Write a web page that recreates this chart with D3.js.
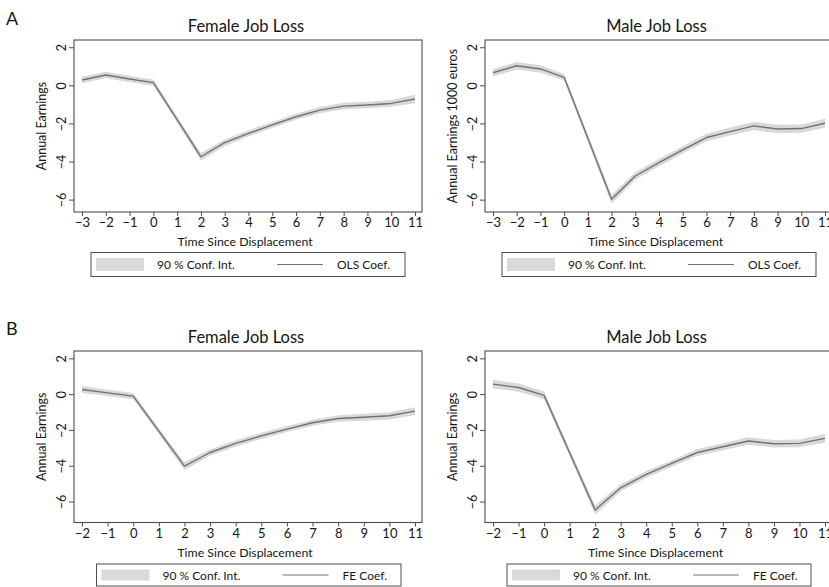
<!DOCTYPE html>
<html>
<head>
<meta charset="utf-8">
<script src="https://cdn.jsdelivr.net/npm/d3@7"></script>
<style>
  body { margin: 0; background: #fff; }
  svg { display: block; }
  text { font-family: Lato, "Open Sans", sans-serif; fill: #161616; }
</style>
</head>
<body>
<svg id="chart" width="829" height="587"></svg>
<script>
// Event-time values (years relative to displacement)
const yearsOLS = [-3, -2, -1, 0, 1, 2, 3, 4, 5, 6, 7, 8, 9, 10, 11];
const yearsFE  = [-2, -1, 0, 1, 2, 3, 4, 5, 6, 7, 8, 9, 10, 11];

// Panel A: OLS coefficients with 90% confidence bounds
const olsFemale   = [0.28, 0.54, 0.33, 0.14, -1.80, -3.75, -3.01, -2.52, -2.08, -1.65, -1.30, -1.09, -1.03, -0.95, -0.72];
const olsFemaleLo = [0.11, 0.37, 0.16, -0.02, -1.96, -3.95, -3.18, -2.68, -2.24, -1.81, -1.47, -1.26, -1.20, -1.13, -0.94];
const olsFemaleHi = [0.45, 0.71, 0.50, 0.30, -1.64, -3.55, -2.84, -2.36, -1.92, -1.49, -1.13, -0.92, -0.86, -0.77, -0.50];

const olsMale   = [0.66, 1.03, 0.86, 0.42, -2.78, -5.98, -4.76, -4.06, -3.39, -2.74, -2.43, -2.13, -2.29, -2.27, -1.99];
const olsMaleLo = [0.46, 0.83, 0.66, 0.24, -2.98, -6.22, -4.96, -4.25, -3.58, -2.94, -2.64, -2.35, -2.51, -2.49, -2.23];
const olsMaleHi = [0.86, 1.23, 1.06, 0.60, -2.58, -5.74, -4.56, -3.87, -3.20, -2.54, -2.22, -1.91, -2.07, -2.05, -1.75];

// Panel B: fixed-effects coefficients with 90% confidence bounds
const feFemale   = [0.26, 0.07, -0.11, -2.07, -4.02, -3.26, -2.75, -2.33, -1.95, -1.60, -1.36, -1.29, -1.21, -0.95];
const feFemaleLo = [0.06, -0.11, -0.29, -2.24, -4.24, -3.44, -2.92, -2.50, -2.12, -1.77, -1.54, -1.48, -1.41, -1.17];
const feFemaleHi = [0.46, 0.25, 0.07, -1.90, -3.80, -3.08, -2.58, -2.16, -1.78, -1.43, -1.18, -1.10, -1.01, -0.73];

const feMale   = [0.56, 0.37, -0.07, -3.27, -6.47, -5.23, -4.48, -3.87, -3.26, -2.94, -2.62, -2.77, -2.75, -2.47];
const feMaleLo = [0.32, 0.14, -0.29, -3.47, -6.74, -5.43, -4.67, -4.05, -3.45, -3.13, -2.83, -2.98, -2.96, -2.71];
const feMaleHi = [0.80, 0.60, 0.15, -3.07, -6.20, -5.03, -4.29, -3.69, -3.07, -2.75, -2.41, -2.56, -2.54, -2.23];

// Axis ticks and text
const yTicks = [2, 0, -2, -4, -6];
const titles = ["Female Job Loss", "Male Job Loss"];
const xTitle = "Time Since Displacement";
const ciLabel = "90 % Conf. Int.";

const svg = d3.select("#chart");
const fmt = d => d < 0 ? "\u2212" + Math.abs(d) : String(d);

const COL_BAND = "#d9d9d9";
const COL_LINE = "#727272";
const COL_FRAME = "#4d4d4d";

function panel(o) {
  const g = svg.append("g");
  const f = o.frame; // {l, r, t, b}
  const x = d3.scaleLinear().domain([o.years[0], 11]).range([f.l + 8, f.r - 7]);
  const y = d3.scaleLinear().domain(o.yDomain).range([f.b, f.t]);

  const rows = o.years.map((t, i) => ({ t, v: o.coef[i], lo: o.lo[i], hi: o.hi[i] }));

  g.append("path")
    .datum(rows)
    .attr("fill", COL_BAND)
    .attr("d", d3.area().x(d => x(d.t)).y0(d => y(d.lo)).y1(d => y(d.hi)));

  g.append("path")
    .datum(rows)
    .attr("fill", "none")
    .attr("stroke", COL_LINE)
    .attr("stroke-width", 1.4)
    .attr("stroke-linejoin", "round")
    .attr("d", d3.line().x(d => x(d.t)).y(d => y(d.v)));

  // frame
  g.append("rect")
    .attr("x", f.l).attr("y", f.t)
    .attr("width", f.r - f.l).attr("height", f.b - f.t)
    .attr("fill", "none").attr("stroke", COL_FRAME).attr("stroke-width", 1.1);

  // y axis (rotated tick labels)
  const ya = g.append("g").attr("transform", `translate(${f.l},0)`)
    .call(d3.axisLeft(y).tickValues(yTicks).tickSize(5).tickPadding(4).tickFormat(fmt));
  ya.select(".domain").remove();
  ya.selectAll("line").attr("stroke", COL_FRAME);
  ya.selectAll("text")
    .attr("font-size", 12.5)
    .attr("text-anchor", "middle")
    .attr("x", null).attr("dy", null)
    .attr("transform", "translate(-13,0) rotate(-90)")
    .attr("y", 0)
    .attr("dominant-baseline", "central")
    .style("font-family", "Lato, sans-serif");

  // x axis
  const xa = g.append("g").attr("transform", `translate(0,${f.b})`)
    .call(d3.axisBottom(x).tickValues(o.years).tickSize(4).tickPadding(2).tickFormat(fmt));
  xa.select(".domain").remove();
  xa.selectAll("line").attr("stroke", COL_FRAME);
  xa.selectAll("text").attr("font-size", 13).style("font-family", "Lato, sans-serif");

  // titles
  g.append("text").attr("x", (f.l + f.r) / 2 - 2).attr("y", f.t - 8)
    .attr("text-anchor", "middle").attr("font-size", 16.5).text(o.title);
  g.append("text").attr("x", (f.l + f.r) / 2 - 3).attr("y", f.b + 34)
    .attr("text-anchor", "middle").attr("font-size", 12.3).text(xTitle);
  g.append("text")
    .attr("transform", `translate(${f.l - 28},${(f.t + f.b) / 2}) rotate(-90)`)
    .attr("text-anchor", "middle").attr("font-size", 12.5).text(o.yTitle);

  // legend
  const L = o.legend; // {l, r, t, b}
  const lg = g.append("g");
  lg.append("rect").attr("x", L.l).attr("y", L.t).attr("width", L.r - L.l).attr("height", L.b - L.t)
    .attr("fill", "#fff").attr("stroke", COL_FRAME).attr("stroke-width", 1);
  lg.append("rect").attr("x", L.l + 5).attr("y", L.t + 5.5).attr("width", 48).attr("height", L.b - L.t - 11)
    .attr("fill", COL_BAND);
  lg.append("text").attr("x", L.l + 66).attr("y", (L.t + L.b) / 2 + 4.5)
    .attr("font-size", 12).text(ciLabel);
  lg.append("line").attr("x1", L.l + 186).attr("x2", L.l + 232)
    .attr("y1", (L.t + L.b) / 2).attr("y2", (L.t + L.b) / 2)
    .attr("stroke", COL_LINE).attr("stroke-width", 1.2);
  lg.append("text").attr("x", L.l + 246).attr("y", (L.t + L.b) / 2 + 4.5)
    .attr("font-size", 12).text(o.coefLabel);
}

const topFrameY = { t: 40, b: 212 };
const botFrameY = { t: 351, b: 522.5 };
const topYDomain = [-6.65, 2.38];
const botYDomain = [-7.17, 2.41];

panel({ years: yearsOLS, coef: olsFemale, lo: olsFemaleLo, hi: olsFemaleHi,
  frame: { l: 74, r: 422, ...topFrameY }, yDomain: topYDomain,
  title: titles[0], yTitle: "Annual Earnings", coefLabel: "OLS Coef.",
  legend: { l: 91, r: 405, t: 252.5, b: 276.5 } });

panel({ years: yearsOLS, coef: olsMale, lo: olsMaleLo, hi: olsMaleHi,
  frame: { l: 485, r: 832, ...topFrameY }, yDomain: topYDomain,
  title: titles[1], yTitle: "Annual Earnings 1000 euros", coefLabel: "OLS Coef.",
  legend: { l: 502, r: 816, t: 252.5, b: 276.5 } });

panel({ years: yearsFE, coef: feFemale, lo: feFemaleLo, hi: feFemaleHi,
  frame: { l: 74, r: 422, ...botFrameY }, yDomain: botYDomain,
  title: titles[0], yTitle: "Annual Earnings", coefLabel: "FE Coef.",
  legend: { l: 96.5, r: 401, t: 564, b: 586 } });

panel({ years: yearsFE, coef: feMale, lo: feMaleLo, hi: feMaleHi,
  frame: { l: 485, r: 832, ...botFrameY }, yDomain: botYDomain,
  title: titles[1], yTitle: "Annual Earnings", coefLabel: "FE Coef.",
  legend: { l: 507, r: 811, t: 564, b: 586 } });

// panel letters
svg.append("text").attr("x", 6).attr("y", 25).attr("font-size", 18).text("A");
svg.append("text").attr("x", 6).attr("y", 335).attr("font-size", 18).text("B");
</script>
</body>
</html>
